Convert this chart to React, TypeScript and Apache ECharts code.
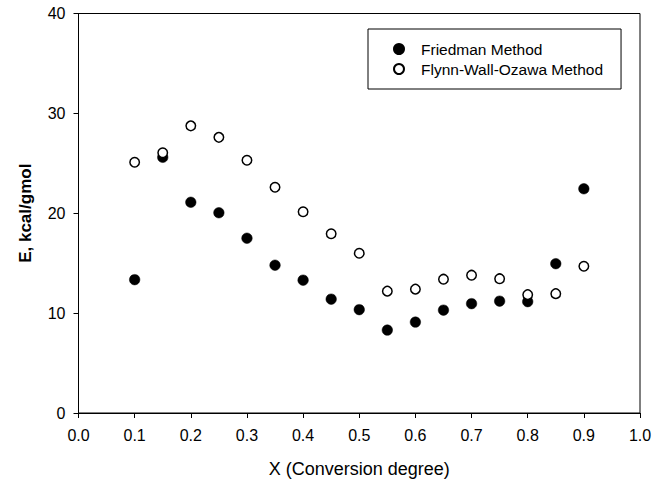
import React, { useEffect, useRef } from "react";
import * as echarts from "echarts";

const conversion = [0.1, 0.15, 0.2, 0.25, 0.3, 0.35, 0.4, 0.45, 0.5, 0.55, 0.6, 0.65, 0.7, 0.75, 0.8, 0.85, 0.9];
const friedman = [13.35, 25.6, 21.1, 20.05, 17.5, 14.8, 13.3, 11.4, 10.35, 8.3, 9.1, 10.3, 10.95, 11.2, 11.15, 14.95, 22.45];
const fwo = [25.1, 26.05, 28.75, 27.6, 25.3, 22.6, 20.15, 17.95, 16.0, 12.2, 12.4, 13.4, 13.8, 13.45, 11.85, 11.95, 14.7];

const seriesNames = ["Friedman Method", "Flynn-Wall-Ozawa Method"];
const xTitle = "X (Conversion degree)";
const yTitle = "E, kcal/gmol";

const FONT = "'Liberation Sans', Arial, sans-serif";

export default function App() {
  const ref = useRef<HTMLDivElement>(null);
  useEffect(() => {
    if (!ref.current) return;
    const chart = echarts.init(ref.current, null, { renderer: "svg" });
    const pair = (vals: number[]) => conversion.map((x, i) => [x, vals[i]]);
    chart.setOption({
      animation: false,
      backgroundColor: "#ffffff",
      textStyle: { fontFamily: FONT, color: "#000" },
      grid: {
        left: 78.5,
        right: 25,
        top: 13.5,
        bottom: 69.5,
        show: true,
        borderColor: "#000",
        borderWidth: 1,
        backgroundColor: "transparent",
      },
      legend: {
        orient: "vertical",
        left: 368,
        top: 29,
        itemWidth: 34,
        itemHeight: 10,
        itemGap: 4,
        padding: [12, 18, 12, 25],
        borderColor: "#000",
        borderWidth: 1,
        backgroundColor: "#fff",
        textStyle: { fontFamily: FONT, fontSize: 15.5, color: "#000" },
        data: seriesNames,
      },
      xAxis: {
        type: "value",
        min: 0,
        max: 1,
        interval: 0.1,
        name: xTitle,
        nameLocation: "middle",
        nameGap: 47,
        nameTextStyle: { fontFamily: FONT, fontSize: 18, color: "#000" },
        axisLine: { show: true, lineStyle: { color: "#000", width: 1 } },
        axisTick: { show: true, inside: false, length: 5, lineStyle: { color: "#000" } },
        axisLabel: {
          margin: 14,
          fontFamily: FONT,
          fontSize: 16,
          color: "#000",
          formatter: (v: number) => v.toFixed(1),
        },
        splitLine: { show: false },
      },
      yAxis: {
        type: "value",
        min: 0,
        max: 40,
        interval: 10,
        name: yTitle,
        nameLocation: "middle",
        nameGap: 45,
        nameRotate: 90,
        nameTextStyle: { fontFamily: FONT, fontSize: 17, fontWeight: "bold", color: "#000" },
        axisLine: { show: true, lineStyle: { color: "#000", width: 1 } },
        axisTick: { show: true, inside: false, length: 5, lineStyle: { color: "#000" } },
        axisLabel: { margin: 13, fontFamily: FONT, fontSize: 16, color: "#000" },
        splitLine: { show: false },
      },
      series: [
        {
          name: seriesNames[0],
          type: "scatter",
          symbol: "circle",
          symbolSize: 10.5,
          itemStyle: { color: "#000", borderColor: "#000", borderWidth: 0.5, opacity: 1 },
          data: pair(friedman),
          z: 2,
        },
        {
          name: seriesNames[1],
          type: "scatter",
          symbol: "circle",
          symbolSize: 9.5,
          itemStyle: { color: "#fff", borderColor: "#000", borderWidth: 1.5, opacity: 1 },
          data: pair(fwo),
          z: 3,
        },
      ],
    });
    return () => chart.dispose();
  }, []);
  return <div ref={ref} style={{ width: 665, height: 483, position: "absolute", left: 0, top: 0 }} />;
}
